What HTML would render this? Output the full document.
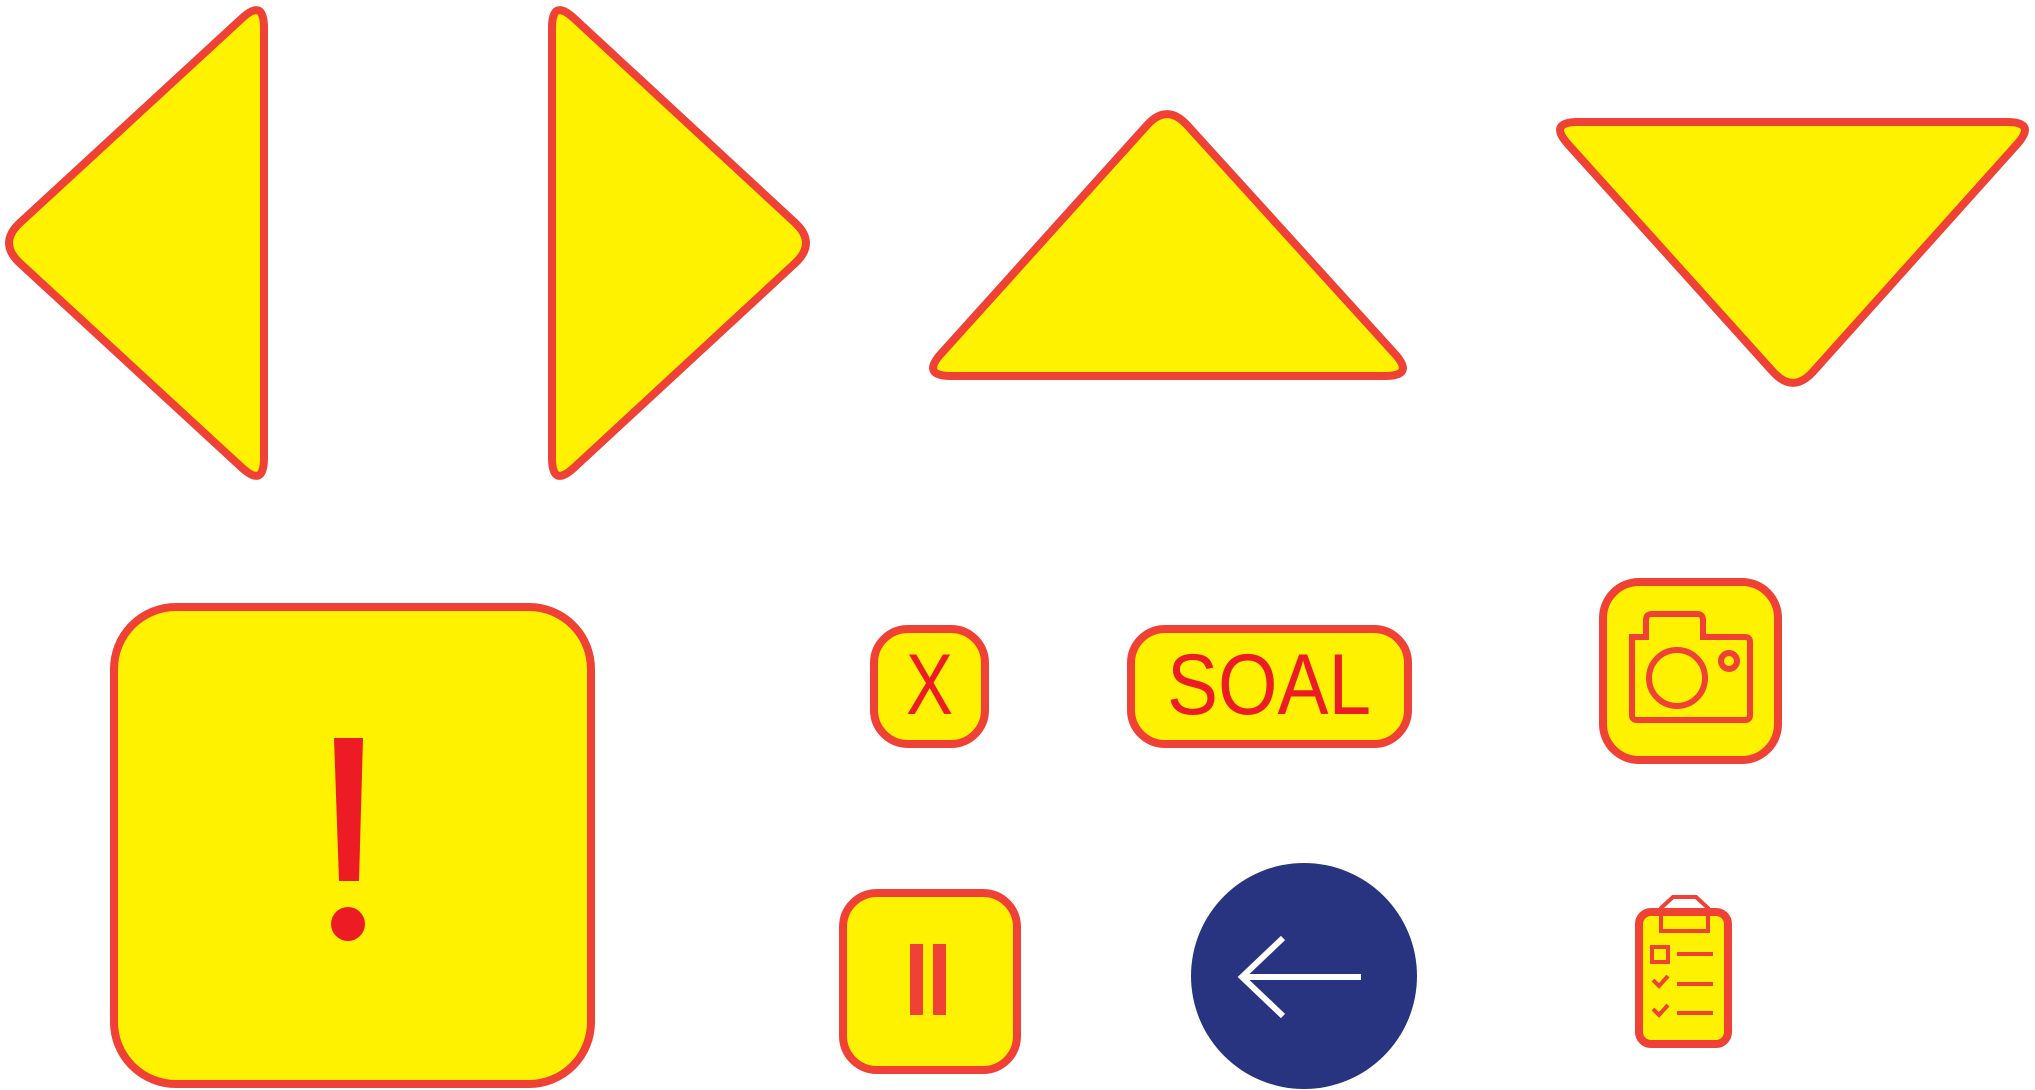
<!DOCTYPE html>
<html><head><meta charset="utf-8"><style>
html,body{margin:0;padding:0;background:#fff;width:2035px;height:1090px;overflow:hidden}
svg{display:block}
text{font-family:"Liberation Sans",sans-serif;fill:#ed1c24}
</style></head><body>
<svg width="2035" height="1090" viewBox="0 0 2035 1090">
<g stroke="#ef4136" stroke-width="8" fill="#fff200" stroke-linejoin="round">
  <path id="tl"/>
  <path id="tr"/>
  <path id="tu"/>
  <path id="td"/>
  <rect x="114" y="607" width="477" height="477" rx="62"/>
  <rect x="874" y="629" width="111" height="115" rx="34"/>
  <rect x="1131" y="629" width="277" height="115" rx="34"/>
  <rect x="1603" y="582" width="175" height="178" rx="36"/>
  <rect x="843" y="893" width="174" height="177" rx="34"/>
  <rect x="1639" y="912" width="89" height="132" rx="12"/>
</g>
<path d="M334 738 H363 L359 881 H339 Z" fill="#ed1c24"/>
<circle cx="348" cy="924" r="17" fill="#ed1c24"/>
<text x="906" y="714" font-size="86" textLength="47" lengthAdjust="spacingAndGlyphs">X</text>
<text x="1167" y="714" font-size="86" textLength="204" lengthAdjust="spacingAndGlyphs">SOAL</text>
<g stroke="#ef4136" stroke-width="6" fill="none">
  <path d="M1632 637 H1646 V620 Q1646 614 1652 614 H1697 Q1703 614 1703 620 V637 H1745 Q1750 637 1750 642 V715 Q1750 720 1745 720 H1637 Q1632 720 1632 715 Z"/>
  <circle cx="1677" cy="678" r="28"/>
  <circle cx="1729" cy="661" r="8"/>
</g>
<g fill="#ef4136">
  <rect x="910" y="944" width="13" height="71"/>
  <rect x="933" y="944" width="13" height="71"/>
</g>
<circle cx="1304" cy="976" r="113" fill="#283480"/>
<g stroke="#fff" stroke-width="6" fill="none">
  <path d="M1283 938 L1242 977 L1283 1016"/>
  <path d="M1242 977 H1361"/>
</g>
<g stroke="#ef4136" stroke-width="4" fill="none">
  <path d="M1661 908 L1673 897 H1696 L1708 908 V931 H1661 Z"/>
  <rect x="1652" y="947" width="16" height="15"/>
  <path d="M1677 954 H1713 M1677 984 H1713 M1677 1013 H1713"/>
  <path d="M1653 980 L1659 986 L1668 976 M1653 1009 L1659 1015 L1668 1005"/>
</g>
</svg>
<script>
function rp(pts,r){
  var n=pts.length,d='';
  for(var i=0;i<n;i++){
    var p=pts[i],a=pts[(i+n-1)%n],b=pts[(i+1)%n];
    var la=Math.hypot(a[0]-p[0],a[1]-p[1]),lb=Math.hypot(b[0]-p[0],b[1]-p[1]);
    var s=[p[0]+(a[0]-p[0])*r/la,p[1]+(a[1]-p[1])*r/la];
    var e=[p[0]+(b[0]-p[0])*r/lb,p[1]+(b[1]-p[1])*r/lb];
    d+=(i?'L':'M')+s[0]+' '+s[1]+'Q'+p[0]+' '+p[1]+' '+e[0]+' '+e[1];
  }
  return d+'Z';
}
document.getElementById('tl').setAttribute('d',rp([[264,-2],[264,488],[-2,243]],30));
document.getElementById('tr').setAttribute('d',rp([[552,-2],[552,488],[817,243]],30));
document.getElementById('tu').setAttribute('d',rp([[1167,103],[1415,376],[921,376]],30));
document.getElementById('td').setAttribute('d',rp([[1548,122],[2037,122],[1793,394]],30));
</script>
</body></html>
